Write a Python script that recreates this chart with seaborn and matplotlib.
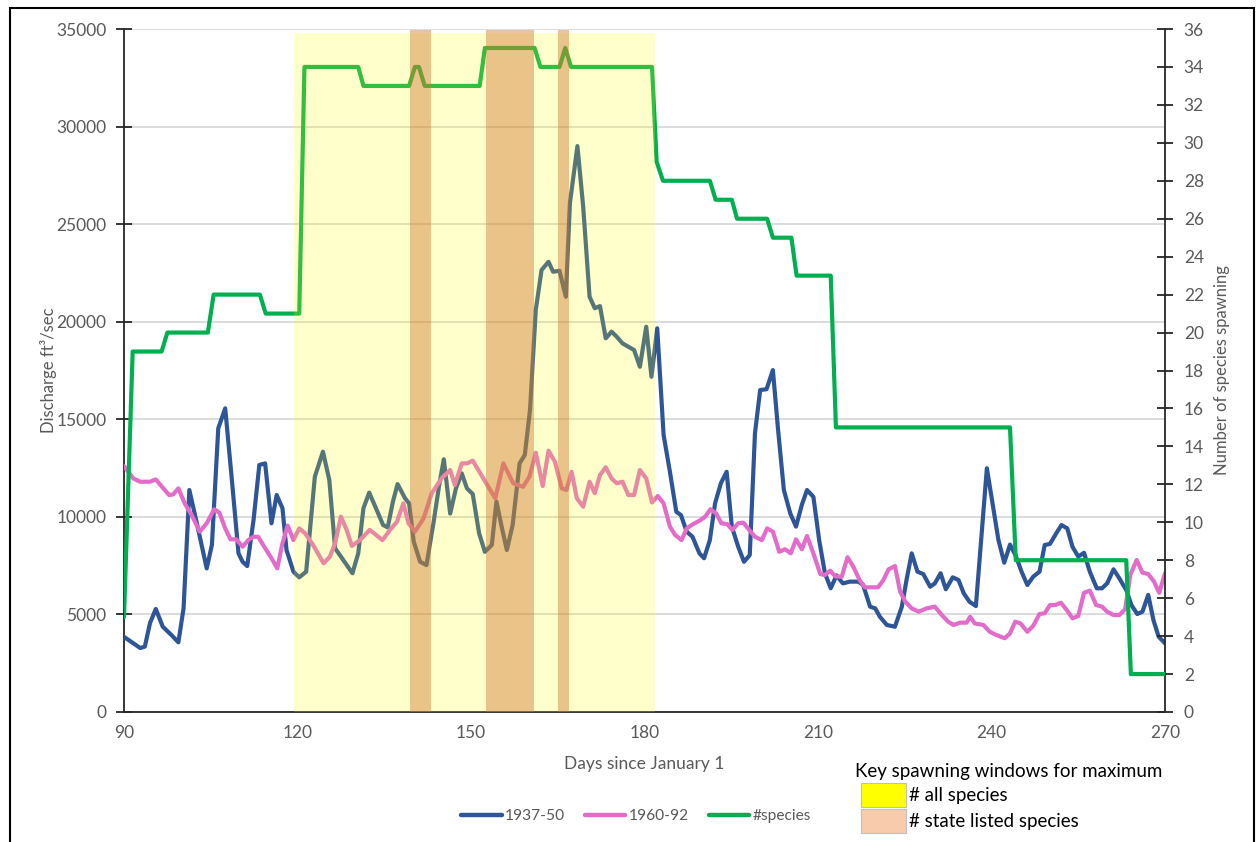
import seaborn as sns
import matplotlib.pyplot as plt
from matplotlib.patches import Rectangle
from matplotlib.lines import Line2D

# discharge 1937-50 (ft3/sec)
days_1937 = [90, 92.8, 93.6, 94.5, 95.5, 96.7, 98.2, 99.4, 100.3, 101.3,
             102.6, 104.3, 105.2, 106.3, 107.5, 108.6, 109.8, 110.5, 111.3, 112.4,
             113.4, 114.4, 115.5, 116.4, 117.4, 118.1, 119.3, 120.3, 121.5, 123.0,
             124.4, 125.5, 126.5, 127.9, 129.5, 130.5, 131.4, 132.4, 133.7, 134.8,
             135.6, 136.5, 137.3, 138.6, 139.3, 140.1, 141.2, 142.3, 143.5, 144.5,
             145.3, 146.4, 147.4, 148.4, 149.3, 150.3, 151.4, 152.4, 153.6, 154.4,
             155.3, 156.2, 157.2, 158.4, 159.3, 160.2, 161.2, 162.2, 163.4, 164.2,
             165.3, 166.4, 167.1, 168.4, 169.4, 170.5, 171.4, 172.3, 173.3, 174.3,
             175.2, 176.2, 177.2, 178.2, 179.2, 180.3, 181.2, 182.2, 183.3, 184.4,
             185.5, 186.3, 187.3, 188.3, 189.5, 190.3, 191.3, 192.2, 193.2, 194.2,
             195.1, 196.2, 197.2, 198.2, 199.1, 200.0, 201.1, 202.2, 203.1, 204.1,
             205.2, 206.2, 207.2, 208.1, 209.2, 210.2, 211.2, 212.2, 213.2, 214.3,
             215.5, 217.0, 217.8, 219.0, 219.9, 220.7, 221.9, 223.3, 224.5, 225.3,
             226.2, 227.2, 228.2, 229.4, 230.2, 231.2, 232.1, 233.3, 234.3, 235.2,
             236.2, 237.3, 238.3, 239.2, 240.0, 241.2, 242.2, 243.2, 244.2, 245.2,
             246.2, 247.2, 248.3, 249.2, 250.1, 251.2, 252.1, 253.1, 254.0, 255.0,
             256.0, 257.0, 258.2, 259.1, 260.0, 261.1, 262.1, 263.3, 264.2, 265.2,
             266.1, 267.1, 268.0, 268.9, 270.0]
flow_1937 = [3850, 3280, 3350, 4560, 5280, 4370, 3945, 3570, 5310, 11375,
             9670, 7360, 8560, 14540, 15560, 12060, 8130, 7700, 7480, 9840,
             12660, 12740, 9670, 11120, 10440, 8300, 7190, 6900, 7190, 12060,
             13340, 11890, 8390, 7790, 7110, 8130, 10440, 11240, 10350, 9580,
             9460, 10780, 11680, 10950, 10690, 8730, 7700, 7530, 9670, 11630,
             12950, 10170, 11460, 12230, 11460, 11170, 9160, 8210, 8560, 10780,
             9500, 8300, 9580, 12740, 13170, 15470, 20600, 22650, 23070, 22560,
             22610, 21280, 26070, 29000, 25890, 21280, 20690, 20800, 19150, 19490,
             19230, 18890, 18720, 18550, 17690, 19740, 17180, 19660, 14200, 12300,
             10260, 10090, 9240, 8980, 8130, 7880, 8810, 10690, 11720, 12310,
             9500, 8470, 7700, 8040, 14280, 16500, 16540, 17520, 14450, 11375,
             10180, 9500, 10610, 11375, 11030, 8810, 7110, 6340, 7000, 6590,
             6680, 6680, 6510, 5400, 5310, 4880, 4460, 4370, 5400, 6760,
             8130, 7190, 7070, 6420, 6590, 7110, 6290, 6900, 6760, 6080,
             5650, 5430, 9160, 12490, 11030, 8810, 7650, 8580, 8000, 7190,
             6510, 6930, 7190, 8560, 8610, 9160, 9580, 9410, 8470, 7960,
             8160, 7190, 6340, 6340, 6590, 7310, 6850, 6250, 5480, 5020,
             5140, 6000, 4710, 3860, 3520]

# discharge 1960-92
days_1960 = [90, 91.6, 92.8, 94.5, 95.5, 96.8, 97.8, 98.5, 99.4, 100.5,
             101.7, 103.1, 104.3, 105.6, 106.5, 107.5, 108.4, 109.4, 110.5, 111.5,
             112.4, 113.2, 114.6, 115.5, 116.5, 117.4, 118.3, 119.3, 120.3, 121.3,
             122.7, 124.5, 125.6, 126.5, 127.5, 128.5, 129.4, 130.8, 132.5, 133.6,
             134.7, 136.0, 137.2, 138.3, 139.2, 140.3, 141.8, 143.2, 144.9, 146.4,
             147.2, 148.4, 149.3, 150.3, 151.6, 153.0, 154.2, 155.6, 157.3, 159.0,
             160.1, 161.2, 162.4, 163.4, 164.5, 165.7, 166.5, 167.4, 168.3, 169.4,
             170.5, 171.4, 172.3, 173.3, 174.3, 175.2, 176.2, 177.2, 178.2, 179.2,
             180.3, 181.3, 182.3, 183.3, 184.4, 185.3, 186.4, 187.3, 188.4, 189.5,
             190.5, 191.4, 192.4, 193.3, 194.3, 195.2, 196.2, 197.1, 198.1, 199.1,
             200.3, 201.2, 202.2, 203.3, 204.3, 205.3, 206.2, 207.2, 208.1, 209.2,
             210.4, 211.2, 212.1, 213.0, 214.1, 215.1, 216.1, 217.2, 218.1, 220.4,
             221.3, 222.2, 223.3, 224.2, 225.1, 226.2, 227.4, 228.8, 230.2, 231.4,
             232.5, 233.4, 234.6, 235.7, 236.3, 237.1, 238.6, 239.7, 240.8, 242.3,
             243.2, 244.1, 245.0, 246.2, 247.2, 248.3, 249.2, 250.1, 251.0, 252.0,
             253.0, 254.0, 255.0, 256.0, 257.0, 258.1, 259.1, 260.0, 261.1, 262.1,
             263.1, 264.0, 265.1, 266.1, 267.1, 268.1, 269.0, 270.0]
flow_1960 = [12600, 11970, 11800, 11800, 11920, 11460, 11120, 11150, 11460, 10690,
             10090, 9240, 9670, 10390, 10210, 9410, 8850, 8850, 8470, 8810,
             8980, 8980, 8300, 7880, 7360, 8640, 9550, 8810, 9410, 9160,
             8560, 7620, 7960, 8640, 10010, 9330, 8510, 8810, 9330, 9070,
             8810, 9330, 9750, 10690, 9670, 9240, 9920, 11200, 11970, 12400,
             11630, 12740, 12740, 12880, 12230, 11540, 10950, 12740, 11720, 11540,
             12060, 13290, 11580, 13390, 12830, 11460, 11375, 12310, 10950, 10520,
             11800, 11210, 12140, 12540, 11970, 11720, 11800, 11120, 11120, 12400,
             11970, 10740, 11070, 10690, 9500, 9070, 8810, 9410, 9630, 9800,
             10010, 10390, 10170, 9670, 9630, 9330, 9670, 9700, 9330, 8980,
             8810, 9410, 9240, 8210, 8340, 8130, 8850, 8340, 9020, 8130,
             7070, 7020, 7240, 6950, 6930, 7930, 7450, 6760, 6390, 6390,
             6760, 7310, 7480, 6170, 5650, 5310, 5140, 5310, 5400, 4970,
             4630, 4460, 4580, 4580, 4880, 4540, 4460, 4110, 3950, 3780,
             4030, 4630, 4540, 4110, 4410, 5020, 5060, 5480, 5480, 5600,
             5230, 4800, 4920, 6110, 6220, 5480, 5400, 5140, 4970, 4970,
             5260, 7020, 7790, 7140, 7070, 6680, 6110, 7110]

# number of species spawning (right axis)
days_species = [90, 91.5, 96.5, 97.5, 104.5, 105.5, 113.5, 114.5, 120.3, 121.2,
                130.5, 131.4, 139.3, 140.3, 141.0, 142.0, 151.5, 152.4, 161.0, 162.0,
                165.3, 166.3, 167.3, 181.3, 182.1, 183.2, 191.3, 192.3, 195.1, 196.0,
                201.2, 202.2, 205.4, 206.3, 212.2, 213.1, 243.2, 244.2, 263.3, 264.1,
                270]
n_species = [5, 19, 19, 20, 20, 22, 22, 21, 21, 34,
             34, 33, 33, 34, 34, 33, 33, 35, 35, 34,
             34, 35, 34, 34, 29, 28, 28, 27, 27, 26,
             26, 25, 25, 23, 23, 15, 15, 8, 8, 2,
             2]

# spawning windows (days)
all_species_window = (119.4, 181.9)
listed_windows = [(139.5, 143.0), (152.6, 160.9), (165.0, 167.0)]

series_labels = ['1937-50', '1960-92', '#species']
key_labels = ['# all species', '# state listed species']

c_blue = '#2E5597'
c_pink = '#E36BCA'
c_green = '#00B050'
c_text = '#595959'

sns.set_style('white')
plt.rcParams['font.family'] = ['Lato', 'DejaVu Sans']

W, H = 1257, 842
fig = plt.figure(figsize=(W / 100, H / 100), dpi=100)
ax = fig.add_axes([124 / W, 1 - 712 / H, (1165 - 124) / W, (712 - 29) / H])

sns.lineplot(x=days_1937, y=flow_1937, ax=ax, color=c_blue, lw=3, sort=False,
             solid_joinstyle='round', zorder=3)
sns.lineplot(x=days_1960, y=flow_1960, ax=ax, color=c_pink, lw=3, sort=False,
             solid_joinstyle='round', zorder=4)

ax.set_xlim(90, 270)
ax.set_ylim(0, 35000)
ax.set_xticks(range(90, 271, 30))
ax.set_yticks(range(0, 35001, 5000))
ax.yaxis.grid(True, color='#d9d9d9', lw=1.3)
ax.set_axisbelow(True)
for s in ['top', 'right']:
    ax.spines[s].set_visible(False)
for s in ['left', 'bottom']:
    ax.spines[s].set_color('#262626')
    ax.spines[s].set_linewidth(1.3)
ax.tick_params(axis='both', direction='inout', length=11, width=1.3, color='#262626',
               labelsize=12.5, labelcolor=c_text)
ax.tick_params(axis='y', pad=7)
ax.tick_params(axis='x', pad=4)

ax.set_ylabel('Discharge ft³/sec', fontsize=12, color=c_text)
ax.yaxis.set_label_coords(-0.064, 0.5)
ax.set_xlabel('Days since January 1', fontsize=12.5, color=c_text)
ax.xaxis.set_label_coords(0.5, -0.064)

ax2 = ax.twinx()
sns.lineplot(x=days_species, y=n_species, ax=ax2, color=c_green, lw=3, sort=False,
             solid_joinstyle='round', zorder=3)
ax2.set_ylim(0, 36)
ax2.set_yticks(range(0, 37, 2))
for s in ['top', 'left', 'bottom']:
    ax2.spines[s].set_visible(False)
ax2.spines['right'].set_color('#262626')
ax2.spines['right'].set_linewidth(1.3)
ax2.tick_params(axis='y', direction='inout', length=11, width=1.3, color='#262626',
                labelsize=12.5, labelcolor=c_text, pad=8)
ax2.set_ylabel('Number of species spawning', fontsize=12, color=c_text)
ax2.yaxis.set_label_coords(1.047, 0.5)

# shaded windows drawn over the lines, as in the original
ax2.axvspan(*all_species_window, ymin=0, ymax=0.994, color='#FFFF00', alpha=0.2,
            lw=0, zorder=6)
for a, b in listed_windows:
    ax2.axvspan(a, b, ymin=0, ymax=0.999, color='#CC7228', alpha=0.42, lw=0, zorder=7)

# line legend under the axis
handles = [Line2D([], [], color=c, lw=3.2) for c in (c_blue, c_pink, c_green)]
fig.legend(handles, series_labels, loc='center', bbox_to_anchor=(636 / W, 1 - 816 / H),
           ncol=3, frameon=False, fontsize=11.2, handlelength=2.6, handletextpad=0.2,
           columnspacing=1.3, labelcolor=c_text)

# key for the shaded windows
fig.text(855 / W, 1 - 771 / H, 'Key spawning windows for maximum', fontsize=13.5,
         va='center', ha='left', color='black')
for i, (lab, col) in enumerate(zip(key_labels, ['#FFFF00', '#F8CBAD'])):
    y0 = 783 + i * 26
    fig.add_artist(Rectangle((861 / W, 1 - (y0 + 24) / H), 45 / W, 24 / H,
                             transform=fig.transFigure, facecolor=col,
                             edgecolor='#bfbfbf', lw=0.8))
    fig.text(909 / W, 1 - (y0 + 12) / H, lab, fontsize=13.5, va='center', ha='left',
             color='black')

# outer frame
fig.add_artist(Rectangle((10 / W, -0.05), (1254 - 10) / W, 1.05 - 8 / H,
                         transform=fig.transFigure, fill=False, ec='black', lw=1.5))

fig.savefig('out.png', dpi=100)
